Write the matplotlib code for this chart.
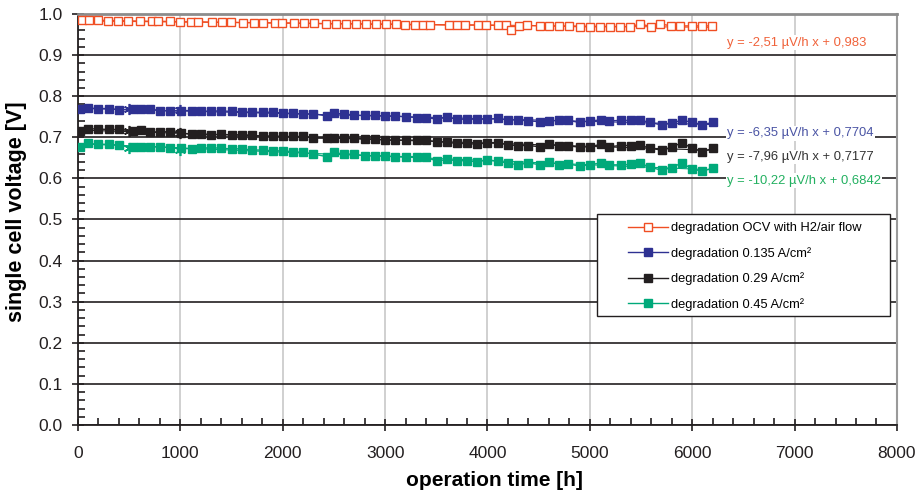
import matplotlib
matplotlib.use("Agg")
import matplotlib.pyplot as plt
from matplotlib.patches import Rectangle
from matplotlib.ticker import MultipleLocator, FormatStrFormatter

plt.rcParams['font.family'] = ['Liberation Sans', 'DejaVu Sans']

# OCV with H2/air flow
t_ocv = [36, 107, 192, 296, 393, 491, 605, 725, 784, 898, 995, 1103, 1174, 1311, 1402,
         1493, 1613, 1720, 1808, 1922, 1993, 2110, 2208, 2306, 2426, 2524, 2621, 2719,
         2817, 2914, 3012, 3109, 3190, 3288, 3373, 3437, 3622, 3698, 3785, 3906, 3990,
         4101, 4185, 4234, 4305, 4387, 4517, 4598, 4696, 4793, 4900, 4998, 5096, 5200,
         5298, 5395, 5493, 5597, 5688, 5792, 5883, 5997, 6095, 6192]
u_ocv = [0.986, 0.986, 0.985, 0.984, 0.984, 0.983, 0.983, 0.982, 0.982, 0.982, 0.981,
         0.981, 0.981, 0.980, 0.980, 0.980, 0.979, 0.979, 0.979, 0.978, 0.978, 0.978,
         0.977, 0.977, 0.976, 0.976, 0.976, 0.976, 0.975, 0.975, 0.975, 0.975, 0.974,
         0.974, 0.974, 0.974, 0.973, 0.973, 0.973, 0.973, 0.973, 0.972, 0.972, 0.962,
         0.971, 0.972, 0.971, 0.971, 0.970, 0.970, 0.969, 0.969, 0.969, 0.969, 0.969,
         0.969, 0.976, 0.969, 0.976, 0.971, 0.971, 0.971, 0.971, 0.971]

# loaded operation
t_load = [20, 100, 200, 300, 400, 540, 620, 700, 800, 900, 1010, 1110, 1200, 1300, 1400,
          1500, 1600, 1700, 1810, 1900, 2000, 2100, 2200, 2300, 2430, 2500, 2600, 2700,
          2800, 2900, 3000, 3100, 3200, 3310, 3400, 3510, 3600, 3700, 3800, 3900, 4000,
          4100, 4200, 4300, 4400, 4510, 4600, 4700, 4790, 4900, 5000, 5110, 5190, 5300,
          5400, 5490, 5590, 5700, 5800, 5900, 6000, 6100, 6200]
u_0135 = [0.770, 0.771, 0.770, 0.770, 0.767, 0.768, 0.768, 0.769, 0.765, 0.764,
          0.765, 0.765, 0.763, 0.764, 0.764, 0.763, 0.762, 0.761, 0.761, 0.761,
          0.759, 0.758, 0.757, 0.757, 0.752, 0.758, 0.757, 0.754, 0.753, 0.753,
          0.752, 0.752, 0.750, 0.748, 0.748, 0.744, 0.749, 0.744, 0.744, 0.744,
          0.744, 0.746, 0.742, 0.742, 0.740, 0.738, 0.740, 0.741, 0.741, 0.736,
          0.740, 0.742, 0.740, 0.741, 0.741, 0.742, 0.736, 0.730, 0.734, 0.742,
          0.736, 0.731, 0.736]
u_029 = [0.716, 0.721, 0.720, 0.719, 0.719, 0.715, 0.717, 0.712, 0.714, 0.713,
         0.710, 0.707, 0.707, 0.706, 0.707, 0.706, 0.706, 0.705, 0.702, 0.703,
         0.702, 0.702, 0.702, 0.698, 0.698, 0.699, 0.698, 0.698, 0.696, 0.696,
         0.693, 0.693, 0.693, 0.693, 0.693, 0.689, 0.688, 0.685, 0.685, 0.683,
         0.687, 0.687, 0.681, 0.680, 0.680, 0.677, 0.683, 0.680, 0.679, 0.676,
         0.677, 0.683, 0.677, 0.680, 0.680, 0.681, 0.673, 0.669, 0.676, 0.687,
         0.673, 0.665, 0.673]
u_045 = [0.677, 0.685, 0.683, 0.683, 0.681, 0.677, 0.677, 0.677, 0.677, 0.675,
         0.673, 0.672, 0.673, 0.675, 0.673, 0.672, 0.672, 0.669, 0.669, 0.667,
         0.667, 0.665, 0.663, 0.659, 0.653, 0.663, 0.659, 0.659, 0.655, 0.655,
         0.655, 0.653, 0.653, 0.653, 0.651, 0.642, 0.646, 0.643, 0.643, 0.640,
         0.645, 0.642, 0.637, 0.633, 0.638, 0.633, 0.641, 0.633, 0.635, 0.630,
         0.633, 0.638, 0.633, 0.633, 0.634, 0.637, 0.627, 0.620, 0.626, 0.638,
         0.622, 0.618, 0.625]

# extra single points (asterisks)
t_star = [500, 1000]
star_0135 = [0.769, 0.766]
star_029 = [0.715, 0.710]
star_045 = [0.673, 0.669]

# linear trend: slope in µV/h, intercept in V
slopes = [-2.51, -6.35, -7.96, -10.22]
intercepts = [0.983, 0.7704, 0.7177, 0.6842]
labels = ['degradation OCV with H2/air flow', 'degradation 0.135 A/cm²',
          'degradation 0.29 A/cm²', 'degradation 0.45 A/cm²']
fit_texts = ['y = -2,51 µV/h x + 0,983', 'y = -6,35 µV/h x + 0,7704',
             'y = -7,96 µV/h x + 0,7177', 'y = -10,22 µV/h x + 0,6842']

colors = ['#f04e23', '#2e3192', '#231f20', '#00a97a']
text_colors = ['#f0623a', '#4a54a4', '#333333', '#22b060']
text_y = [0.930, 0.710, 0.652, 0.594]

fig = plt.figure(figsize=(9.19, 4.94), dpi=100)
ax = fig.add_axes([0.0849, 0.1397, 0.8911, 0.832])

ax.plot(t_ocv, u_ocv, '-s', color=colors[0], mfc='white', mec=colors[0],
        ms=5.5, lw=1, mew=1, label=labels[0], zorder=5)
for u, s, c, lab in zip([u_0135, u_029, u_045], [star_0135, star_029, star_045],
                        colors[1:], labels[1:]):
    ax.plot(t_load, u, '-s', color=c, ms=5.5, lw=1, label=lab, zorder=5)
    ax.plot(t_star, s, ls='none', marker=(6, 2, 0), ms=8, mew=1.2, color=c, zorder=6)

for m, b, c, tc, txt, ty, tt in zip(slopes, intercepts, colors, text_colors,
                                     fit_texts, text_y, [t_ocv] + [t_load] * 3):
    xs = [tt[0], tt[-1]]
    ax.plot(xs, [b + m * 1e-6 * x for x in xs], color=c, lw=0.8, zorder=4)
    ax.text(6340, ty, txt, color=tc, fontsize=9.4, va='center', ha='left', zorder=3,
            bbox=dict(facecolor='white', edgecolor='none', pad=1))

ax.set_xlim(0, 8000)
ax.set_ylim(0, 1.0)
ax.xaxis.set_major_locator(MultipleLocator(1000))
ax.xaxis.set_minor_locator(MultipleLocator(200))
ax.yaxis.set_major_locator(MultipleLocator(0.1))
ax.yaxis.set_minor_locator(MultipleLocator(0.02))
ax.yaxis.set_major_formatter(FormatStrFormatter('%.1f'))
ax.tick_params(which='major', direction='inout', length=8, width=1.2, labelsize=12.5,
               colors='#231f20')
ax.tick_params(which='minor', direction='in', length=5, width=1.2, colors='#231f20')
ax.tick_params(axis='x', pad=11)
ax.tick_params(axis='y', pad=7)

ax.grid(axis='y', which='major', color='#231f20', lw=1.2, zorder=1)
ax.grid(axis='x', which='major', color='#c8c8c8', lw=1.2, zorder=1)
ax.set_axisbelow(True)

for side in ['left', 'bottom']:
    ax.spines[side].set_color('#231f20')
    ax.spines[side].set_linewidth(1.3)
ax.spines['top'].set_color('#8c8c8c')
ax.spines['top'].set_linewidth(2)
ax.spines['right'].set_color('#9a9a9a')
ax.spines['right'].set_linewidth(1.5)

ax.set_xlabel('operation time [h]', fontsize=15, fontweight='bold')
ax.set_ylabel('single cell voltage [V]', fontsize=15.5, fontweight='bold')
ax.xaxis.set_label_coords(0.509, -0.112)
ax.yaxis.set_label_coords(-0.062, 0.52)

# legend box drawn separately so the frame can be wider than the entries
ax.add_patch(Rectangle((0.634, 0.265), 0.358, 0.248, transform=ax.transAxes,
                       facecolor='white', edgecolor='#231f20', lw=1, zorder=9))
leg = ax.legend(loc='upper left', bbox_to_anchor=(0.6716, 0.493), fontsize=9.3,
                frameon=False, handlelength=3.1, labelspacing=0.98, borderpad=0,
                handletextpad=0.25, borderaxespad=0)
leg.set_zorder(10)

fig.savefig('out.png', dpi=100)
